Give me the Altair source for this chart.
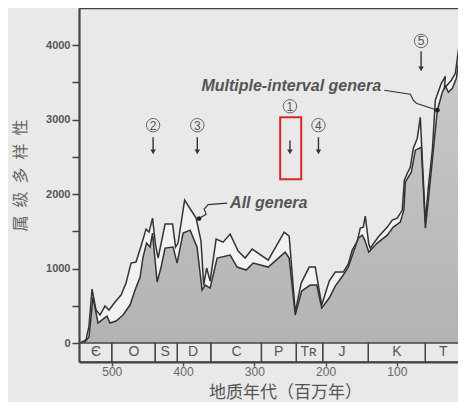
import altair as alt
import pandas as pd

# ---- data ----
all_age = [544.6, 536.2, 532.0, 527.7, 522.1, 516.5, 509.5, 503.9, 495.4, 487.0, 480.0, 473.0, 466.0,
           458.9, 451.9, 447.7, 442.8, 438.6, 435.0, 425.2, 414.7, 410.5, 407.0, 397.8, 381.7, 374.8,
           371.1, 366.9, 362.0, 353.6, 343.8, 333.9, 322.7, 312.9, 303.0, 280.5, 258.1, 251.1, 242.6,
           234.2, 223.0, 214.5, 205.4, 194.9, 186.4, 175.2, 168.2, 162.6, 155.5, 151.3, 147.1, 144.3,
           139.4, 137.3, 126.1, 113.4, 106.4, 99.4, 92.4, 89.5, 85.3, 81.1, 76.9, 71.3, 67.1, 60.0,
           55.8, 50.2, 46.0, 37.6, 31.9, 33.3, 23.5, 17.9, 13.7, 8.1, 3.9]
all_val = [0, 40, 228, 725, 443, 376, 497, 443, 550, 644, 805, 1074, 1087,
           1302, 1530, 1490, 1678, 1315, 1141, 1597, 1597, 1288, 1342, 1919, 1678, 1369,
           778, 1007, 832, 1396, 1355, 1463, 1235, 1141, 1261, 1114, 1490, 1436, 416,
           805, 1020, 1020, 510, 832, 953, 953, 1060, 1248, 1369, 1543, 1557, 1704,
           1329, 1275, 1423, 1557, 1651, 1678, 1785, 2187, 2281, 2362, 2617, 2751, 3033, 1624,
           2094, 2590, 3261, 3489, 3583, 3422, 3530, 3623, 3932, 4160, 4536]

mult_age = [539.0, 532.0, 526.3, 519.3, 512.3, 506.7, 502.5, 494.0, 484.2, 474.4, 467.3, 460.3, 456.1,
            451.2, 446.3, 442.8, 436.4, 430.8, 425.2, 414.0, 408.4, 399.9, 390.1, 380.3, 373.3, 369.0,
            362.0, 352.2, 333.9, 324.1, 311.5, 301.6, 280.5, 256.7, 251.1, 242.6, 233.5, 221.6, 212.4,
            205.4, 194.9, 186.4, 175.2, 168.2, 158.4, 154.2, 148.5, 145.0, 139.4, 127.5, 113.4, 105.0,
            95.2, 90.2, 88.1, 83.9, 79.7, 74.1, 65.7, 60.0, 55.1, 50.2, 43.2, 36.2, 31.9, 27.7, 22.1,
            16.5, 12.3, 8.1, 3.9]
mult_val = [0, 81, 617, 268, 322, 362, 268, 295, 376, 510, 711, 886, 1154,
            1342, 1288, 1476, 819, 1020, 1275, 1288, 1074, 1476, 1516, 1288, 711, 778,
            738, 1141, 1181, 1020, 980, 1074, 1020, 1221, 1141, 376, 698, 778, 778,
            470, 604, 765, 913, 1020, 1288, 1409, 1449, 1382, 1221, 1342, 1449, 1557,
            1624, 1785, 2161, 2228, 2295, 2590, 2630, 1543, 1986, 2456, 3127, 3368, 3449, 3368, 3422,
            3556, 3865, 4066, 4442]

period_start = [546, 500, 439, 408, 361, 290, 241, 204, 140, 60]
period_end = [500, 439, 408, 361, 290, 241, 204, 140, 60, 0]
period_label = ["Є", "O", "S", "D", "C", "P", "Tʀ", "J", "K", "T"]
period_label_age = [522, 469, 425, 386, 325, 266, 224, 177, 100, 35]

event_num = ["2", "3", "1", "4", "5"]
event_age = [442, 380, 250, 210, 66]
event_circle_val = [2926, 2926, 3180, 2926, 4057]
arrow_top_val = [2765, 2765, 2720, 2765, 3919]
arrow_tip_val = [2523, 2523, 2523, 2523, 3637]

box_age = [263.7, 234.2]
box_val = [3033, 2201]

lead_all_age = [338.1, 364.8, 370.4, 367.6, 377.5]
lead_all_val = [1879, 1859, 1798, 1731, 1671]
lead_mult_age = [117.6, 81.1, 76.9, 72.7, 43.2]
lead_mult_val = [3395, 3342, 3261, 3221, 3127]

text_labels = ["All genera", "Multiple-interval genera"]
text_age = [334.0, 248.2]
text_val = [1886, 3449]

X_DOMAIN = [546, 14.2]
Y_DOMAIN = [-255, 4500]

# ---- frames ----
df_all = pd.DataFrame({"age": all_age, "val": all_val, "base": 0, "i": range(len(all_age))})
df_mult = pd.DataFrame({"age": mult_age, "val": mult_val, "base": 0, "i": range(len(mult_age))})
df_per = pd.DataFrame({"age": period_start, "e": period_end, "val": -255, "hi": 0})
df_plab = pd.DataFrame({"age": period_label_age, "lab": period_label, "val": -122})
df_ev = pd.DataFrame({"age": event_age, "num": event_num, "val": event_circle_val,
                      "top": arrow_top_val, "tip": arrow_tip_val})
df_ev["head"] = [t + 45 for t in arrow_tip_val]
df_box = pd.DataFrame({"age": [box_age[0]], "a2": [box_age[1]], "val": [box_val[0]], "v2": [box_val[1]]})
df_lead = pd.concat([
    pd.DataFrame({"age": lead_all_age, "val": lead_all_val, "g": "a", "i": range(5)}),
    pd.DataFrame({"age": lead_mult_age, "val": lead_mult_val, "g": "m", "i": range(5)}),
])
df_dots = pd.DataFrame({"age": [lead_all_age[-1], lead_mult_age[-1]],
                        "val": [lead_all_val[-1], lead_mult_val[-1]]})
df_txt = pd.DataFrame({"age": text_age, "val": text_val, "lab": text_labels})
df_top = pd.DataFrame({"age": [X_DOMAIN[0]], "a2": [X_DOMAIN[1]], "val": [Y_DOMAIN[1]]})

xs = alt.Scale(domain=X_DOMAIN, nice=False, zero=False)
ys = alt.Scale(domain=Y_DOMAIN, nice=False, zero=False)

x_axis = alt.Axis(values=[500, 400, 300, 200, 100], format="d", tickSize=4, tickWidth=1.5,
                  tickColor="#555", domainColor="#444", domainWidth=2.2, labelFontSize=12,
                  labelColor="#666", labelFont="Liberation Sans", labelPadding=0, grid=False,
                  title="地质年代（百万年）", titleFont="Noto Sans CJK SC", titleFontSize=17,
                  titleFontWeight="normal", titleColor="#555", titleX=206, titleY=30.5,
                  titleBaseline="middle", titleAlign="center")
y_axis = alt.Axis(values=list(range(0, 4001, 500)), format="d",
                  labelExpr="datum.value % 1000 === 0 ? datum.label : ''",
                  tickSize=7, tickWidth=1.5, tickColor="#444", domainColor="#444", domainWidth=2.2,
                  labelFontSize=11, labelFontWeight="bold", labelColor="#555",
                  labelFont="Liberation Sans", labelPadding=2, grid=False,
                  title="属\u2002级\u2002多\u2002样\u2002性", titleFont="Noto Sans CJK SC",
                  titleFontSize=16, titleFontWeight="normal", titleColor="#666666",
                  titleX=-59, titleY=167, titleAngle=270, titleBaseline="middle", titleAlign="center")


def X(field="age"):
    return alt.X(f"{field}:Q", scale=xs, axis=x_axis)


def Y(field="val"):
    return alt.Y(f"{field}:Q", scale=ys, axis=y_axis)


gray_grad = alt.Gradient(gradient="linear",
                         stops=[alt.GradientStop(color="#cdcdcd", offset=0),
                                alt.GradientStop(color="#b3b3b3", offset=1)],
                         x1=0, x2=0, y1=0, y2=1)

area_all = alt.Chart(df_all).mark_area(fill="#f2f2f2", clip=True).encode(
    x=X(), y=Y(), y2="base:Q")
area_mult = alt.Chart(df_mult).mark_area(fill=gray_grad, clip=True).encode(
    x=X(), y=Y(), y2="base:Q")
line_all = alt.Chart(df_all).mark_line(color="#333", strokeWidth=1.5, clip=True).encode(
    x=X(), y=Y(), order="i:Q")
line_mult = alt.Chart(df_mult).mark_line(color="#333", strokeWidth=1.5, clip=True).encode(
    x=X(), y=Y(), order="i:Q")

periods = alt.Chart(df_per).mark_rect(fillOpacity=0, stroke="#444", strokeWidth=1.3, clip=True).encode(
    x=X(), x2="e:Q", y=Y(), y2="hi:Q")
plabels = alt.Chart(df_plab).mark_text(fontSize=14, color="#555", font="Liberation Sans").encode(
    x=X(), y=Y(), text="lab:N")

top_line = alt.Chart(df_top).mark_rule(color="#444", strokeWidth=2.5).encode(
    x=X(), x2="a2:Q", y=Y())

circles = alt.Chart(df_ev).mark_point(shape="circle", size=180, stroke="#666", strokeWidth=1,
                                      filled=False, opacity=1).encode(x=X(), y=Y())
nums = alt.Chart(df_ev).mark_text(fontSize=12, color="#555", font="Liberation Sans", dy=0.5).encode(
    x=X(), y=Y(), text="num:N")
shafts = alt.Chart(df_ev).mark_rule(color="#333", strokeWidth=1.4).encode(
    x=X(), y=Y("top"), y2="head:Q")
heads = alt.Chart(df_ev).mark_point(shape="triangle-down", size=30, filled=True, color="#333",
                                    opacity=1).encode(x=X(), y=Y("head"))

redbox = alt.Chart(df_box).mark_rect(fillOpacity=0, stroke="#d9262b", strokeWidth=2).encode(
    x=X(), x2="a2:Q", y=Y(), y2="v2:Q")

leaders = alt.Chart(df_lead).mark_line(color="#333", strokeWidth=1.2).encode(
    x=X(), y=Y(), detail="g:N", order="i:Q")
dots = alt.Chart(df_dots).mark_point(shape="circle", size=22, filled=True, color="#222",
                                     opacity=1).encode(x=X(), y=Y())

txt_all = alt.Chart(df_txt.iloc[[0]]).mark_text(fontSize=16, fontStyle="italic", fontWeight="bold",
                                                color="#555", font="Liberation Sans", align="left").encode(
    x=X(), y=Y(), text="lab:N")
txt_mult = alt.Chart(df_txt.iloc[[1]]).mark_text(fontSize=16, fontStyle="italic", fontWeight="bold",
                                                 color="#555", font="Liberation Sans", align="center").encode(
    x=X(), y=Y(), text="lab:N")

chart = alt.layer(
    area_all, area_mult, line_all, line_mult, periods, plabels, top_line,
    circles, nums, shafts, heads, redbox, leaders, dots, txt_all, txt_mult,
).properties(
    width=379, height=354,
    autosize=alt.AutoSizeParams(type="none"),
    padding={"left": 71, "top": 0, "right": 0, "bottom": 40},
    background="#e9e9e9",
).configure_view(stroke=None)

chart.save("out.html", embed_options={"renderer": "svg", "actions": False})
